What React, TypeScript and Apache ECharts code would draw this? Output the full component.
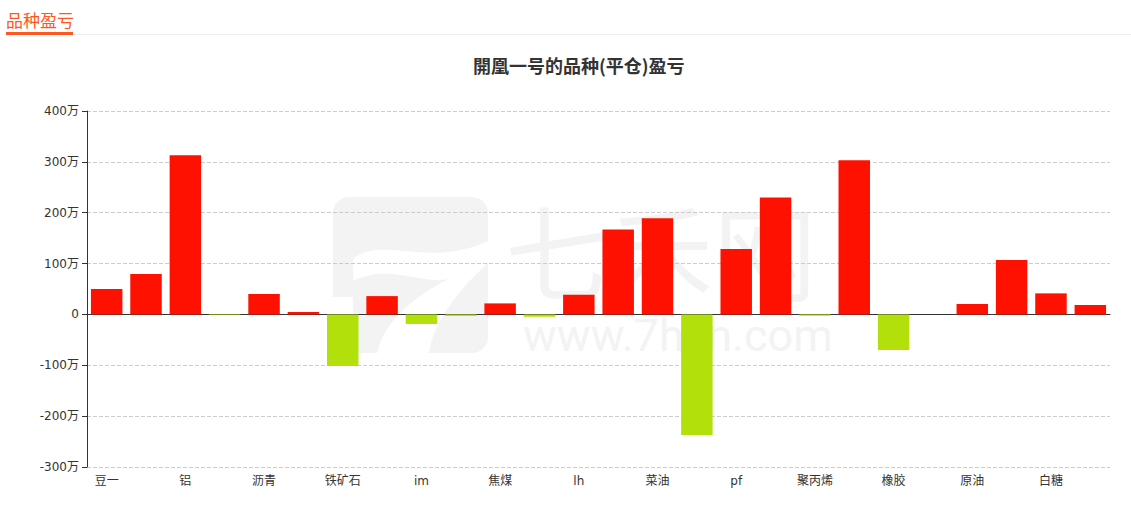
import React, { useEffect, useRef } from "react";
import * as echarts from "echarts";

const categories = [
  "豆一", "豆粕", "铝", "黄金", "沥青", "玻璃", "铁矿石", "螺纹钢", "im", "焦炭",
  "焦煤", "纯碱", "lh", "甲醇", "菜油", "棉花", "pf", "尿素", "聚丙烯", "白银",
  "橡胶", "PTA", "原油", "苹果", "白糖", "燃油",
];
// 单位：万
const profit = [
  50, 79.5, 313, -1, 40, 5, -101.5, 36, -19, -3,
  21.7, -4.5, 38.7, 167, 189, -237, 128.6, 230, -2.5, 303,
  -70, 0, 20.4, 107, 41.4, 18.5,
];
const yTicks = [-300, -200, -100, 0, 100, 200, 300, 400];

const FONT = "'Noto Sans CJK SC', 'Noto Sans', sans-serif";
const AXFONT = "'DejaVu Sans', 'Noto Sans CJK SC', sans-serif";

export default function App() {
  const ref = useRef<HTMLDivElement>(null);
  useEffect(() => {
    if (!ref.current) return;
    const d =
      "M 20 62 C 50 38, 95 72, 155 44 L 155 66 C 122 96, 100 128, 96 156 L 44 156 C 52 122, 84 98, 116 82 C 86 88, 58 66, 20 84 Z M 0 100 L 20 100 L 20 156 L 0 156 Z";
    echarts.graphic.registerShape("logo7", echarts.graphic.extendPath(d, {}));
    const chart = echarts.init(ref.current, null, { renderer: "svg" });
    chart.setOption({
      animation: false,
      textStyle: { fontFamily: FONT },
      title: {
        text: "開凰一号的品种(平仓)盈亏",
        left: 468,
        top: 51,
        textStyle: { fontSize: 18, fontWeight: "bold", color: "#333", fontFamily: FONT },
      },
      graphic: [
        {
          type: "text",
          left: 6,
          top: 11,
          style: { text: "品种盈亏", fill: "#ff5722", font: `17px ${FONT}` },
        },
        { type: "rect", shape: { x: 6, y: 34, width: 1125, height: 1 }, style: { fill: "#eeeeee" } },
        { type: "rect", shape: { x: 6, y: 32, width: 67, height: 3 }, style: { fill: "#ff5722" } },
        {
          type: "rect",
          z: -10,
          shape: { x: 333, y: 197, width: 155, height: 156, r: 16 },
          style: { fill: "#f3f3f3" },
        },
        { type: "logo7", z: -9, x: 333, y: 197, style: { fill: "#ffffff" } },
        {
          type: "text",
          z: -10,
          x: 505,
          y: 198,
          style: { text: "七禾网", fill: "#f3f3f3", font: `104px ${FONT}`, lineHeight: 100 },
        },
        {
          type: "text",
          z: -10,
          x: 523,
          y: 315,
          style: { text: "www.7hcn.com", fill: "#f3f3f3", font: `45px Roboto, sans-serif`, lineHeight: 40 },
        },
      ],
      grid: { left: 87, right: 21, top: 111, bottom: 38 },
      xAxis: [
        {
          type: "category",
          data: categories,
          axisLine: { onZero: true, lineStyle: { color: "#333" } },
          axisTick: { alignWithLabel: true, interval: 1, length: 5, lineStyle: { color: "#333" } },
          axisLabel: { show: false, interval: 1 },
        },
        {
          type: "category",
          data: categories,
          position: "bottom",
          axisLine: { show: false, onZero: false },
          axisTick: { show: false },
          axisLabel: { interval: 1, color: "#333", fontSize: 12, fontFamily: AXFONT },
        },
      ],
      yAxis: {
        type: "value",
        min: yTicks[0],
        max: yTicks[yTicks.length - 1],
        interval: 100,
        axisLine: { show: true, lineStyle: { color: "#333" } },
        axisTick: { show: true, length: 5, lineStyle: { color: "#333" } },
        axisLabel: {
          color: "#333",
          fontSize: 12,
          fontFamily: AXFONT,
          formatter: (v: number) => (v === 0 ? "0" : v + "万"),
        },
        splitLine: { lineStyle: { type: "dashed", color: "#cccccc" } },
      },
      series: [
        {
          type: "bar",
          xAxisIndex: 0,
          data: profit,
          barWidth: "80%",
          itemStyle: {
            color: (p: any) => (p.value >= 0 ? "#ff1100" : "#b2e00a"),
          },
        },
      ],
    });
    return () => chart.dispose();
  }, []);
  return (
    <div
      ref={ref}
      style={{ position: "fixed", left: 0, top: 0, width: 1131, height: 505, background: "#fff" }}
    />
  );
}
